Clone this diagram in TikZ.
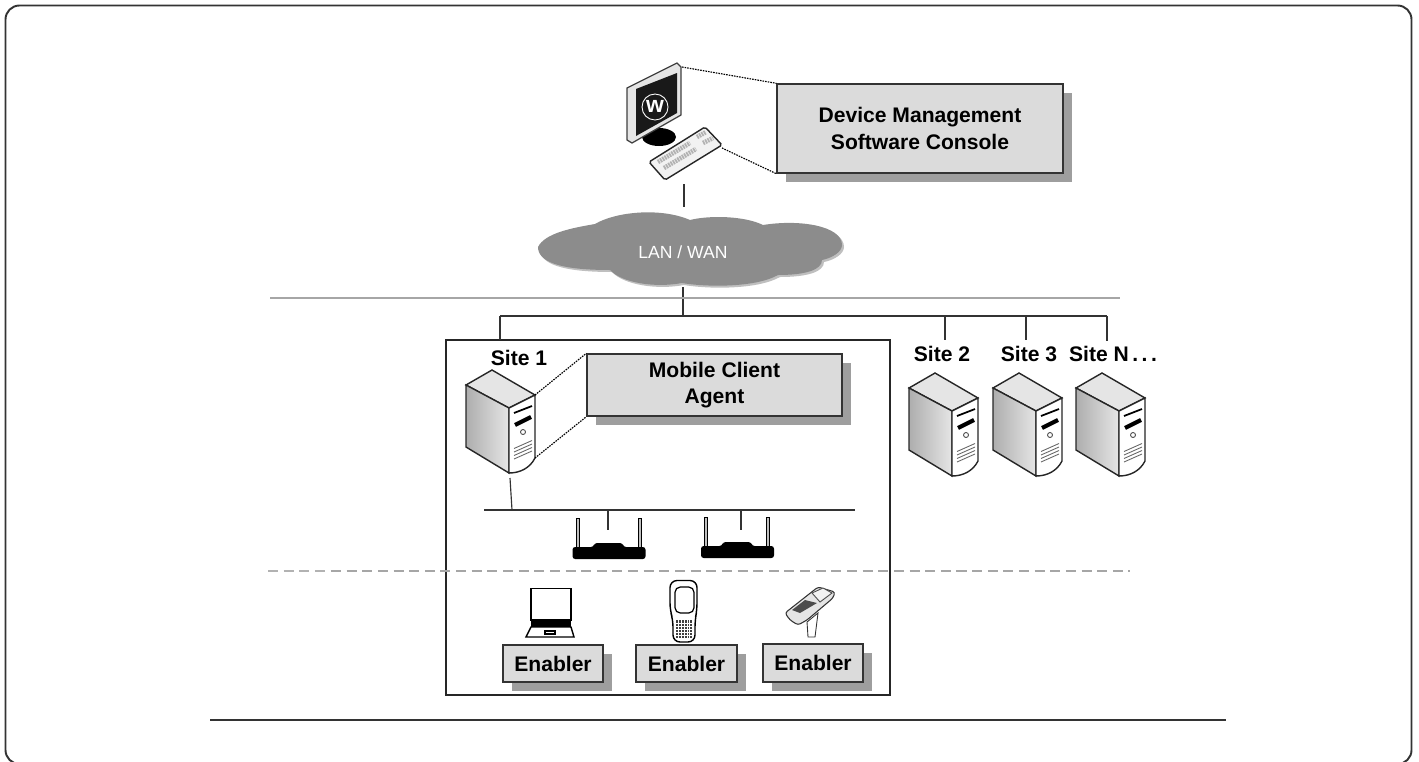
\documentclass[tikz,border=0pt]{standalone}
\usepackage{fontspec}
\setmainfont{Liberation Sans}
\usetikzlibrary{shadows}
\definecolor{boxgray}{gray}{0.86}
\definecolor{cloudgray}{gray}{0.55}
\tikzset{
    wire/.style={draw=black!80, line width=0.65pt},
    dotwire/.style={draw=black, line width=0.65pt, dash pattern=on 0.9pt off 0.6pt},
    sitelabel/.style={font=\fontsize{12}{15}\selectfont\bfseries, inner sep=0pt},
    infobox/.style={draw=black!80, line width=0.8pt, fill=boxgray, align=center, inner sep=0pt,
        font=\fontsize{12}{15}\selectfont\bfseries,
        drop shadow={shadow xshift=0.18cm, shadow yshift=-0.18cm, fill=black!38, opacity=1}},
    serverbox/.pic={
        \draw[black!85, line width=0.8pt, fill=black!10] (0,0) -- (-26,15) -- (17,38) -- (43,25) -- cycle;
        \draw[black!85, line width=0.8pt, left color=black!32, right color=black!10] (-26,15) -- (17,38) -- (17,103) -- (-26,77) -- cycle;
        \draw[black!85, line width=0.8pt, fill=white] (17,38) -- (43,25) -- (43,88) .. controls (38,98) and (28,103) .. (17,103) -- cycle;
        \draw[line width=1pt] (22,43) -- (40,36);
        \draw[line width=2.4pt] (23,55) -- (39,47);
        \draw[black!70, line width=0.5pt] (31,62) circle (2.5);
        \foreach \d in {0,3.5,7,10.5} {
            \draw[black!60, line width=0.5pt] (22,85-\d+4) -- (40,77-\d+4);
        }
        \coordinate (-right) at (43,25);
        \coordinate (-low) at (43,88);
        \coordinate (-base) at (18,108);
    },
    routerbox/.pic={
        \foreach \a in {-31,31} {
            \draw[black, line width=0.4pt, fill=black!25] (\a-1.5,-41) rectangle (\a+1.5,-10);
        }
        \fill[black, rounded corners=1.5pt] (-36,0) -- (-36,-12) -- (-15,-12) -- (-14,-16) -- (14,-16) -- (15,-12) -- (37,-12) -- (37,0) -- cycle;
    },
}
\newcommand{\cloudpath}{(538,247) .. controls (545,233) and (572,228) .. (595,224)
    .. controls (615,212) and (660,207) .. (690,220)
    .. controls (710,215) and (745,216) .. (763,225)
    .. controls (800,219) and (842,226) .. (842,245)
    .. controls (842,252) and (832,258) .. (822,260)
    .. controls (822,270) and (805,275) .. (778,275)
    .. controls (755,288) and (705,287) .. (682,283)
    .. controls (655,288) and (622,283) .. (610,270)
    .. controls (560,270) and (538,262) .. (538,247) -- cycle}
\begin{document}
\begin{tikzpicture}[x=0.02cm, y=-0.02cm]
    \useasboundingbox (0,0) rectangle (1419,761);
    \draw[black!80, line width=1.1pt, rounded corners=0.28cm] (5.5,5.5) rectangle (1411.5,764);

    % console with its monitor and keyboard
    \node (console) [infobox, minimum width=5.72cm, minimum height=1.78cm] at (920,128.5) {Device Management\\Software Console};
    \fill[black] (659,137) ellipse (17 and 9);
    \draw[black!75, line width=0.7pt, fill=black!10] (627,88) -- (677,63) -- (681,67) -- (681,115) -- (632,143) -- (627,140) -- cycle;
    \fill[black!90] (636,89) -- (677,73) -- (677,113) -- (636,136) -- cycle;
    \draw[white, line width=0.5pt] (655,107) circle (13);
    \node (logo) [text=white, font=\fontsize{13}{13}\selectfont\bfseries, inner sep=0pt] at (655,106) {w};
    \draw[black!85, line width=0.8pt, fill=black!5, rounded corners=1pt] (649,162) -- (705,127) -- (722,145) -- (665,180) -- cycle;
    \draw[black!30, line width=2.6pt, dash pattern=on 1pt off 0.5pt] (658,162) -- (690,143);
    \draw[black!30, line width=2.6pt, dash pattern=on 1pt off 0.5pt] (664,168) -- (696,149);
    \draw[black!30, line width=2.6pt, dash pattern=on 1pt off 0.5pt] (697,137) -- (706,132);
    \draw[black!30, line width=2.6pt, dash pattern=on 1pt off 0.5pt] (703,143) -- (713,138);
    \coordinate (monitortop) at (682,67);
    \coordinate (keyboardend) at (722,148);
    \draw[dotwire] (monitortop) edge (console.north west);
    \draw[dotwire] (keyboardend) edge (console.south west);

    % cloud
    \fill[black!25] [shift={(2,2)}] \cloudpath;
    \fill[cloudgray] \cloudpath;
    \node (cloud) [text=white, font=\fontsize{10}{12}\selectfont, inner sep=0pt] at (683,252) {LAN / WAN};
    \coordinate (consolefoot) at (684,184);
    \coordinate (cloudtop) at (684,207);
    \coordinate (cloudfoot) at (683,287);
    \coordinate (trunk) at (683,316);
    \draw[wire] (consolefoot) edge (cloudtop);
    \draw[wire] (cloudfoot) edge (trunk);

    % long rules
    \coordinate (grayleft) at (270,298);
    \coordinate (grayright) at (1120,298);
    \coordinate (footleft) at (210,720);
    \coordinate (footright) at (1226,720);
    \draw[black!35, line width=0.7pt] (grayleft) -- (grayright);
    \draw[wire] (footleft) -- (footright);

    % sites
    \node (sitebox) [draw=black!85, line width=0.8pt, minimum width=8.88cm, minimum height=7.1cm] at (668,517.5) {};
    \coordinate (busa) at (500,316);
    \coordinate (busb) at (945,316);
    \coordinate (busc) at (1026,316);
    \coordinate (busd) at (1107,316);
    \coordinate (dropa) at (500,340);
    \coordinate (dropb) at (945,340);
    \coordinate (dropc) at (1026,340);
    \coordinate (dropd) at (1107,341);
    \draw[wire] (busa) -- (busd);
    \draw[wire] (busa) edge (dropa);
    \draw[wire] (busb) edge (dropb);
    \draw[wire] (busc) edge (dropc);
    \draw[wire] (busd) edge (dropd);
    \node (sitea) [sitelabel] at (519,358) {Site 1};
    \node (siteb) [sitelabel] at (942,353.5) {Site 2};
    \node (sitec) [sitelabel] at (1029,353.5) {Site 3};
    \node (siten) [sitelabel] at (1113,353.5) {Site N\,.\,.\,.};
    \pic (srva) at (492,370) {serverbox};
    \pic (srvb) at (935,373) {serverbox};
    \pic (srvc) at (1019,373) {serverbox};
    \pic (srvn) at (1102,373) {serverbox};

    % agent
    \node (agent) [infobox, minimum width=5.1cm, minimum height=1.24cm] at (714.5,385) {Mobile Client\\Agent};
    \draw[dotwire] (srva-right) edge (agent.north west);
    \draw[dotwire] (srva-low) edge (agent.south west);

    % access points
    \coordinate (lanleft) at (484,510);
    \coordinate (lanright) at (855,510);
    \coordinate (lantap) at (512,510);
    \coordinate (apa) at (608,510);
    \coordinate (apb) at (741,510);
    \coordinate (apafoot) at (608,530);
    \coordinate (apbfoot) at (741,530);
    \draw[wire] (lanleft) -- (lanright);
    \draw[wire] (srva-base) edge (lantap);
    \draw[wire] (apa) edge (apafoot);
    \draw[wire] (apb) edge (apbfoot);
    \pic (routera) at (608.5,559) {routerbox};
    \pic (routerb) at (737,558) {routerbox};

    % dashed rule
    \coordinate (dashleft) at (268,571);
    \coordinate (dashmid) at (331,571);
    \coordinate (dashright) at (1130,571);
    \draw[black!30, line width=0.6pt, dash pattern=on 5.7pt off 3.2pt] (dashleft) -- (dashmid);
    \draw[black!35, line width=1.3pt, dash pattern=on 5.7pt off 3.2pt] (dashmid) -- (dashright);

    % enablers
    \node (enablera) [infobox, minimum width=2cm, minimum height=0.74cm] at (553,663.5) {Enabler};
    \node (enablerb) [infobox, minimum width=2.02cm, minimum height=0.74cm] at (686.5,663.5) {Enabler};
    \node (enablerc) [infobox, minimum width=2cm, minimum height=0.76cm] at (813,663) {Enabler};

    % laptop
    \draw[black, line width=1.1pt, fill=white] (531,588.5) rectangle (571,620);
    \fill[black] (531,620) rectangle (571,627);
    \draw[black, line width=0.8pt, fill=white] (531,627) -- (571,627) -- (574,637) -- (526,637) -- cycle;
    \draw[black, line width=0.6pt] (545,631) rectangle (555,634);

    % handheld
    \draw[black, line width=0.8pt, fill=white, rounded corners=4pt] (670,610) -- (670,580.5) -- (697,580.5) -- (697,610) -- (695,620) -- (695,642) -- (673,642) -- (673,620) -- cycle;
    \draw[black, line width=0.7pt, rounded corners=3pt] (675,587) rectangle (694,613);
    \fill[black!75] (676,620) rectangle (692,638);
    \foreach \k in {1,...,5} {
        \draw[white, line width=0.25pt] (676+\k*2.7,620) -- (676+\k*2.7,638);
        \draw[white, line width=0.25pt] (676,620+\k*3) -- (692,620+\k*3);
    }

    % scanner
    \draw[black!80, line width=0.5pt, fill=white] (807,622) -- (808,637) -- (815,637) -- (818,613) -- cycle;
    \draw[black!80, line width=0.6pt, fill=black!10, rounded corners=1.5pt] (785,613) -- (818,587) -- (835,592) -- (833,598) -- (807,620) -- (798,625) -- (790,620) -- cycle;
    \draw[black!70, line width=0.5pt, fill=black!5] (812,593) -- (823,588) -- (832,593) -- (820,602) -- cycle;
    \fill[black!70] (792,610) -- (805,600) -- (817,603) -- (800,613) -- cycle;
\end{tikzpicture}
\end{document}
